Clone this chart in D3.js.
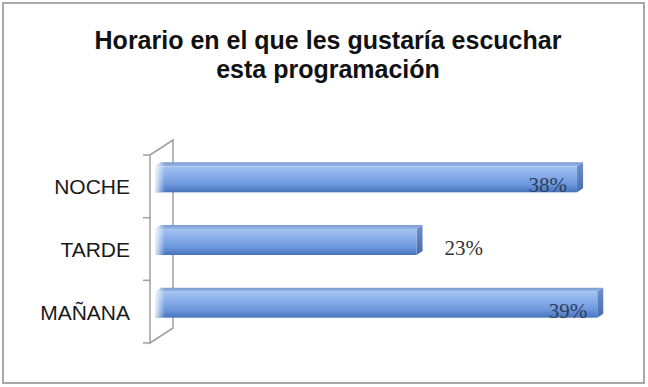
<!DOCTYPE html>
<html><head><meta charset="utf-8">
<script src="https://cdn.jsdelivr.net/npm/d3@7"></script>
<style>html,body{margin:0;padding:0;background:#fff;}svg{display:block;}</style>
</head><body>
<script>
const titleLines = ["Horario en el que les gustaría escuchar", "esta programación"];
const categories = ["NOCHE", "TARDE", "MAÑANA"];
const values = [37.6, 23.3, 39.4];
const labels = ["38%", "23%", "39%"];
const insideLabel = [true, false, true];

const W = 648, H = 387;
const svg = d3.select("body").append("svg").attr("width", W).attr("height", H);
const defs = svg.append("defs");

const gFront = defs.append("linearGradient").attr("id","gFront").attr("x1",0).attr("y1",0).attr("x2",0).attr("y2",1);
[[0,"#a4c2f0"],[0.3,"#8cb1ea"],[0.7,"#6c97dc"],[1,"#4873bd"]].forEach(s=>gFront.append("stop").attr("offset",s[0]).attr("stop-color",s[1]));
const gTop = defs.append("linearGradient").attr("id","gTop").attr("x1",0).attr("y1",0).attr("x2",0).attr("y2",1);
[[0,"#7a9ad0"],[1,"#98b7e6"]].forEach(s=>gTop.append("stop").attr("offset",s[0]).attr("stop-color",s[1]));
const gSide = defs.append("linearGradient").attr("id","gSide").attr("x1",0).attr("y1",0).attr("x2",0).attr("y2",1);
[[0,"#7090cc"],[1,"#456cb0"]].forEach(s=>gSide.append("stop").attr("offset",s[0]).attr("stop-color",s[1]));
const gLeft = defs.append("linearGradient").attr("id","gLeft").attr("x1",0).attr("y1",0).attr("x2",1).attr("y2",0);
[[0,"#ffffff",0.85],[1,"#ffffff",0]].forEach(s=>gLeft.append("stop").attr("offset",s[0]).attr("stop-color",s[1]).attr("stop-opacity",s[2]));

// frame
svg.append("rect").attr("x",3).attr("y",3).attr("width",641).attr("height",380)
  .attr("fill","#fff").attr("stroke","#a8a8a8").attr("stroke-width",2);

// title
svg.append("text").attr("x",328).attr("y",49).attr("text-anchor","middle")
  .attr("font-family","Liberation Sans, Arial, sans-serif").attr("font-weight","bold").attr("font-size",25).attr("fill","#111")
  .selectAll("tspan").data(titleLines).join("tspan")
  .attr("x",328).attr("dy",(d,i)=>i===0?0:29).text(d=>d);

// scales
const dx = 23, dy = -15;           // wall depth
const y = d3.scaleBand().domain(categories).range([155, 343]).padding(0);
const x = d3.scaleLinear().domain([0, 40]).range([155, 604]);
const barH = 26, bdx = 6, bdy = -4; // bar depth
const barShiftY = -7;

// wall (side wall of 3D chart)
const wall = svg.append("g").attr("stroke","#a0a0a0").attr("stroke-width",1.5).attr("fill","none");
const yTop = y.range()[0], yBot = y.range()[1], xW = 150;
wall.append("path").attr("d", `M${xW},${yTop}L${xW+dx},${yTop+dy}L${xW+dx},${yBot+dy}L${xW},${yBot}Z`);
// ticks
const tickYs = categories.map(c=>y(c)).concat([yBot]);
wall.selectAll("line.tick").data(tickYs).join("line").attr("class","tick")
  .attr("x1",xW-7).attr("x2",xW).attr("y1",d=>d).attr("y2",d=>d);

// category labels
svg.append("g").selectAll("text").data(categories).join("text")
  .attr("x",130).attr("y",d=>y(d)+y.bandwidth()/2+8)
  .attr("text-anchor","end").attr("font-family","Liberation Sans, Arial, sans-serif")
  .attr("font-size",21).attr("fill","#1a1a1a").text(d=>d);

// bars
const bars = svg.append("g").selectAll("g").data(categories.map((c,i)=>({c, v:values[i], l:labels[i], inside:insideLabel[i]}))).join("g");
bars.each(function(d){
  const g = d3.select(this);
  const x0 = x(0), x1 = x(d.v);
  const t = y(d.c) + (y.bandwidth()-barH)/2 + barShiftY, b = t + barH;
  g.append("path").attr("d",`M${x0},${t}L${x0+bdx},${t+bdy}L${x1+bdx},${t+bdy}L${x1},${t}Z`).attr("fill","url(#gTop)");
  g.append("path").attr("d",`M${x1},${t}L${x1+bdx},${t+bdy}L${x1+bdx},${b+bdy}L${x1},${b}Z`).attr("fill","url(#gSide)");
  g.append("rect").attr("x",x0).attr("y",t).attr("width",x1-x0).attr("height",barH).attr("fill","url(#gFront)");
  g.append("rect").attr("x",x0).attr("y",t+bdy).attr("width",10).attr("height",barH-bdy).attr("fill","url(#gLeft)");
  g.append("text")
    .attr("x", d.inside ? x1-10 : x1+28)
    .attr("y", b)
    .attr("text-anchor", d.inside ? "end" : "start")
    .attr("font-family","Liberation Serif, Times New Roman, serif").attr("font-size",21)
    .attr("fill", d.inside ? "#2f3d5c" : "#333").text(d.l);
});
</script>
</body></html>
